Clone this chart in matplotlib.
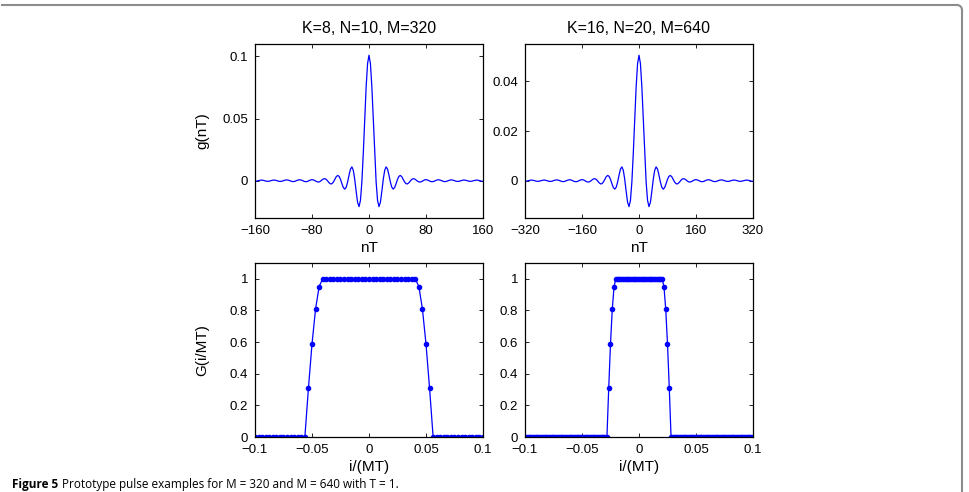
import numpy as np
import matplotlib
matplotlib.use("Agg")
import matplotlib.pyplot as plt
from matplotlib.lines import Line2D

plt.rcParams['font.family'] = ['Liberation Sans', 'DejaVu Sans']

# g(nT), half side only (curve is even)
# M=320: n = 0, 2, ..., 160
n1_half = np.arange(0, 161, 2)
g1_half = [
    0.10098, 0.09424, 0.07567, 0.04968, 0.02220, -0.00099, -0.01581, -0.02084, -0.01737,
    -0.00872, 0.00101, 0.00829, 0.01111, 0.00937, 0.00455, -0.00105, -0.00525, -0.00677,
    -0.00551, -0.00240, 0.00107, 0.00354, 0.00423, 0.00318, 0.00108, -0.00108, -0.00242,
    -0.00256, -0.00164, -0.00021, 0.00105, 0.00164, 0.00141, 0.00060, -0.00034, -0.00098,
    -0.00105, -0.00061, 0.00007, 0.00065, 0.00086, 0.00061, 0.00008, -0.00048, -0.00078,
    -0.00069, -0.00027, 0.00027, 0.00067, 0.00075, 0.00048, 0.00000, -0.00047, -0.00071,
    -0.00062, -0.00026, 0.00021, 0.00056, 0.00064, 0.00043, 0.00003, -0.00036, -0.00056,
    -0.00050, -0.00020, 0.00018, 0.00046, 0.00051, 0.00031, -0.00003, -0.00035, -0.00049,
    -0.00040, -0.00011, 0.00023, 0.00046, 0.00047, 0.00025, -0.00008, -0.00038, -0.00049,
]
# M=640: n = 0, 4, ..., 320
n2_half = np.arange(0, 321, 4)
g2_half = [
    0.05049, 0.04712, 0.03784, 0.02484, 0.01110, -0.00050, -0.00791, -0.01042, -0.00869,
    -0.00436, 0.00051, 0.00415, 0.00556, 0.00469, 0.00228, -0.00053, -0.00263, -0.00339,
    -0.00276, -0.00120, 0.00054, 0.00177, 0.00212, 0.00159, 0.00054, -0.00054, -0.00121,
    -0.00128, -0.00082, -0.00011, 0.00053, 0.00082, 0.00071, 0.00030, -0.00017, -0.00049,
    -0.00053, -0.00031, 0.00004, 0.00033, 0.00043, 0.00031, 0.00004, -0.00024, -0.00039,
    -0.00035, -0.00014, 0.00014, 0.00034, 0.00038, 0.00024, 0.00000, -0.00024, -0.00036,
    -0.00031, -0.00013, 0.00011, 0.00028, 0.00032, 0.00022, 0.00002, -0.00018, -0.00028,
    -0.00025, -0.00010, 0.00009, 0.00023, 0.00026, 0.00016, -0.00002, -0.00018, -0.00025,
    -0.00020, -0.00006, 0.00012, 0.00023, 0.00024, 0.00013, -0.00004, -0.00019, -0.00025,
]

# G(i/MT) samples, i = 0 .. imax (even in i)
G_edge = [0.951, 0.809, 0.588, 0.309]
G1_half = [1.0] * 14 + G_edge + [0.0] * 15   # i = 0..32, M=320
G2_half = [1.0] * 14 + G_edge + [0.0] * 47   # i = 0..64, M=640
M1, M2 = 320, 640

titles = ["K=8, N=10, M=320", "K=16, N=20, M=640"]
top_xticks = [[-160, -80, 0, 80, 160], [-320, -160, 0, 160, 320]]
top_yticks = [[0, 0.05, 0.1], [0, 0.02, 0.04]]
top_yticklabels = [["0", "0.05", "0.1"], ["0", "0.02", "0.04"]]
bot_xticks = [-0.1, -0.05, 0, 0.05, 0.1]
bot_xticklabels = ["\u22120.1", "\u22120.05", "0", "0.05", "0.1"]
bot_yticks = [0, 0.2, 0.4, 0.6, 0.8, 1]
bot_yticklabels = ["0", "0.2", "0.4", "0.6", "0.8", "1"]

caption_bold = "Figure 5"
caption_text = "Prototype pulse examples for M = 320 and M = 640 with T = 1."

BLUE = (0, 0, 1)


def mirror(half):
    half = np.asarray(half, dtype=float)
    return np.concatenate([half[:0:-1], half])


def mirror_x(half):
    half = np.asarray(half, dtype=float)
    return np.concatenate([-half[:0:-1], half])


def style_axes(ax):
    ax.tick_params(direction='in', top=True, right=True, length=3, width=0.6,
                   labelsize=9.5, pad=5, colors='black')
    for sp in ax.spines.values():
        sp.set_linewidth(0.9)
        sp.set_color('black')


def main():
    fig = plt.figure(figsize=(9.7, 4.92), dpi=100)
    W, H = 970.0, 492.0
    lefts = [255, 525]
    width = 228
    top_box = (44, 218)
    bot_box = (263, 437)

    top_data = [(mirror_x(n1_half), mirror(g1_half)), (mirror_x(n2_half), mirror(g2_half))]
    top_ylims = [(-0.03, 0.11), (-0.015, 0.055)]
    bot_data = [(np.arange(-32, 33) / M1, mirror(G1_half)),
                (np.arange(-64, 65) / M2, mirror(G2_half))]

    for k in range(2):
        # --- top: impulse response g(nT) ---
        ax = fig.add_axes([lefts[k] / W, 1 - top_box[1] / H, width / W,
                           (top_box[1] - top_box[0]) / H])
        x, y = top_data[k]
        ax.plot(x, y, '-', color=BLUE, linewidth=0.9)
        ax.set_xlim(top_xticks[k][0], top_xticks[k][-1])
        ax.set_ylim(*top_ylims[k])
        ax.set_xticks(top_xticks[k])
        ax.set_xticklabels([str(t).replace('-', '\u2212') for t in top_xticks[k]])
        ax.set_yticks(top_yticks[k])
        ax.set_yticklabels(top_yticklabels[k])
        ax.set_xlabel('nT', fontsize=11, labelpad=3)
        ax.set_title(titles[k], fontsize=11.5, pad=8)
        if k == 0:
            ax.set_ylabel('g(nT)', fontsize=11, labelpad=9.5)
        style_axes(ax)

        # --- bottom: frequency response G(i/MT) ---
        ax = fig.add_axes([lefts[k] / W, 1 - bot_box[1] / H, width / W,
                           (bot_box[1] - bot_box[0]) / H])
        x, y = bot_data[k]
        ax.plot(x, y, '.-', color=BLUE, linewidth=0.9, markersize=6)
        ax.set_xlim(-0.1, 0.1)
        ax.set_ylim(0, 1.1)
        ax.set_xticks(bot_xticks)
        ax.set_xticklabels(bot_xticklabels)
        ax.set_yticks(bot_yticks)
        ax.set_yticklabels(bot_yticklabels)
        ax.set_xlabel('i/(MT)', fontsize=11, labelpad=3)
        if k == 0:
            ax.set_ylabel('G(i/MT)', fontsize=11, labelpad=14.5)
        style_axes(ax)

    # page frame (top rule with rounded right corner)
    gray = (0.55, 0.55, 0.55)
    fig.add_artist(Line2D([2 / W, 957 / W], [1 - 5 / H, 1 - 5 / H],
                          transform=fig.transFigure, color=gray, linewidth=1.5))
    t = np.linspace(0, np.pi / 2, 10)
    fig.add_artist(Line2D((957 + 5 * np.sin(t)) / W, 1 - (10 - 5 * np.cos(t)) / H,
                          transform=fig.transFigure, color=gray, linewidth=1.5))
    fig.add_artist(Line2D([962 / W, 962 / W], [1 - 10 / H, 0],
                          transform=fig.transFigure, color=gray, linewidth=1.5))

    # caption line at the bottom of the page crop
    fig.text(12 / W, 1.0 / H, caption_bold, fontsize=8.5, fontweight='bold',
             family=['Open Sans', 'DejaVu Sans'], va='bottom', ha='left')
    fig.text(62 / W, 1.0 / H, caption_text,
             fontsize=8.5, family=['Open Sans', 'DejaVu Sans'], va='bottom', ha='left')

    fig.savefig('out.png', dpi=100)
    plt.close(fig)


if __name__ == "__main__":
    main()
